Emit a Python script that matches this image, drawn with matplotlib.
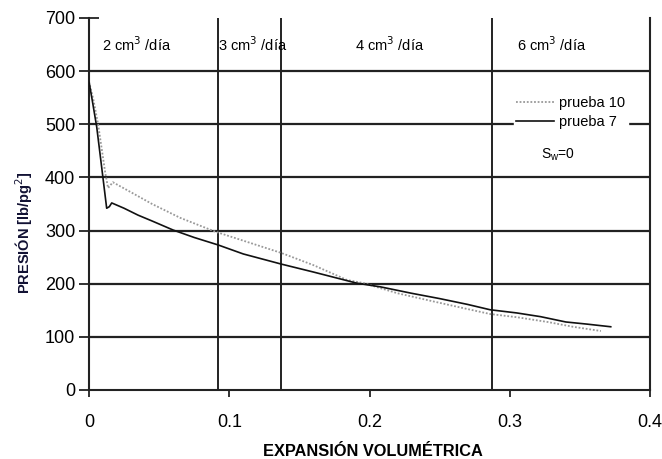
import matplotlib
matplotlib.use("Agg")
import matplotlib.pyplot as plt

plt.rcParams['font.family'] = ['Liberation Sans', 'DejaVu Sans']

# prueba 7 (solid)
x7 = [0.0, 0.002, 0.0055, 0.009, 0.0126, 0.0145, 0.0162, 0.025, 0.035, 0.045, 0.06, 0.075,
      0.092, 0.11, 0.137, 0.16, 0.191, 0.208, 0.23, 0.25, 0.27, 0.286, 0.305, 0.322, 0.34, 0.355, 0.372]
y7 = [580, 550, 495, 420, 342, 345, 352, 342, 329, 318, 301, 287,
      273, 256, 237, 222, 201, 194, 182, 172, 161, 151, 145, 138, 128, 124, 119]

# prueba 10 (dotted)
x10 = [0.0, 0.003, 0.0065, 0.009, 0.0115, 0.0136, 0.017, 0.03, 0.045, 0.065, 0.09, 0.11,
       0.137, 0.16, 0.184, 0.196, 0.22, 0.245, 0.267, 0.286, 0.305, 0.327, 0.345, 0.365]
y10 = [580, 548, 500, 455, 410, 380, 391, 372, 350, 324, 298, 281,
       258, 235, 207, 201, 182, 167, 154, 143, 137, 128, 119, 111]

rate_x = [0.092, 0.137, 0.287]
rate_labels = ['2 cm$^3$ /día', '3 cm$^3$ /día', '4 cm$^3$ /día', '6 cm$^3$ /día']
rate_label_x = [0.0093, 0.092, 0.19, 0.305]

W, H = 662, 459
fig = plt.figure(figsize=(W / 100, H / 100), dpi=100)
ax = fig.add_axes([89 / W, 1 - 390 / H, (650 - 89) / W, (390 - 18) / H])

ax.set_xlim(0, 0.4)
ax.set_ylim(0, 700)
ax.set_xticks([0, 0.1, 0.2, 0.3, 0.4])
ax.set_xticklabels(['0', '0.1', '0.2', '0.3', '0.4'])
ax.set_yticks(range(0, 701, 100))

for yv in range(100, 601, 100):
    ax.axhline(yv, color='#222222', lw=1.6, zorder=1)
for xv in rate_x:
    ax.axvline(xv, color='#222222', lw=1.4, zorder=1)

ax.plot(x10, y10, color='#999999', lw=1.3, ls=(0, (1, 1)), label='prueba 10', zorder=3)
ax.plot(x7, y7, color='#111111', lw=1.2, label='prueba 7', zorder=3)

for lx, lt in zip(rate_label_x, rate_labels):
    ax.text(lx, 650, lt, fontsize=10.5, va='center', ha='left')

ax.spines['top'].set_visible(False)
for s in ['left', 'right', 'bottom']:
    ax.spines[s].set_color('#222222')
    ax.spines[s].set_linewidth(1.5)

ax.tick_params(axis='x', direction='out', length=5, width=1.3, labelsize=13, pad=12, color='#222222')
ax.tick_params(axis='y', direction='inout', length=14, width=1.3, labelsize=13, pad=3, color='#222222')

leg = ax.legend(loc='center left', bbox_to_anchor=(0.745, 0.745), frameon=True, fancybox=False,
                edgecolor='white', framealpha=1, fontsize=10.5, handlelength=2.6,
                handletextpad=0.35, borderpad=0.15, labelspacing=0.35)
ax.text(0.322, 442, 'S$_{\\mathregular{w}}$=0', fontsize=10, ha='left', va='center')

fig.text(372.5 / W, 1 - 451 / H, 'EXPANSIÓN VOLUMÉTRICA', fontsize=11.8,
         fontweight='bold', ha='center', va='center')
fig.text(24 / W, 1 - 233 / H, 'PRESIÓN [lb/pg$^2$]', fontsize=10.5, fontweight='bold',
         rotation=90, ha='center', va='center', color='#111133')

fig.savefig('out.png', dpi=100)
